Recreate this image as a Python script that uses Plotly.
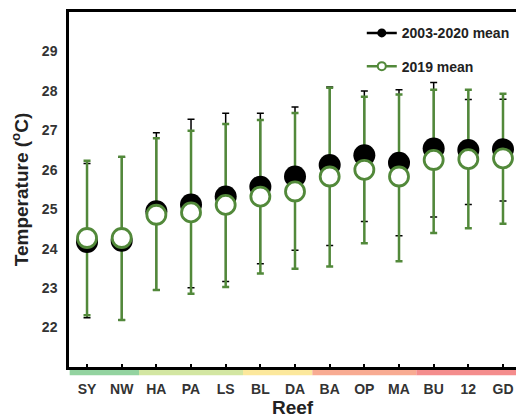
import plotly.graph_objects as go

# Reef sites, ordered from coolest to warmest
reefs = ["SY", "NW", "HA", "PA", "LS", "BL", "DA", "BA", "OP", "MA", "BU", "12", "GD"]

# Long-term (2003-2020) mean temperature with its min/max range
mean_long = [24.17, 24.20, 24.95, 25.12, 25.32, 25.57, 25.83, 26.12, 26.37, 26.18, 26.54, 26.50, 26.52]
max_long = [26.16, 26.32, 26.94, 27.28, 27.43, 27.43, 27.59, 28.10, 28.00, 28.03, 28.21, 27.78, 27.79]
min_long = [22.25, 22.19, 22.95, 23.01, 23.17, 23.62, 23.96, 24.08, 24.69, 24.33, 24.80, 25.12, 25.21]

# 2019 mean temperature with its min/max range
mean_2019 = [24.27, 24.27, 24.86, 24.92, 25.11, 25.32, 25.45, 25.83, 26.00, 25.83, 26.25, 26.27, 26.29]
max_2019 = [26.23, 26.33, 26.80, 26.99, 27.16, 27.26, 27.44, 28.08, 27.85, 27.91, 28.03, 28.03, 27.93]
min_2019 = [22.31, 22.19, 22.95, 22.86, 23.03, 23.37, 23.49, 23.55, 24.14, 23.68, 24.40, 24.52, 24.63]

# Thermal zone colour bands under the reef axis: (first index, last index, colour)
zones = [(0, 1, "#93d3a0"), (2, 4, "#d3e6a2"), (5, 6, "#fce89c"),
         (7, 9, "#f8ab92"), (10, 12, "#f48d8d")]

green = "#52893a"
font = "Arial, Liberation Sans, sans-serif"
x = list(range(len(reefs)))

up_long = [h - m for h, m in zip(max_long, mean_long)]
dn_long = [m - l for m, l in zip(mean_long, min_long)]
up_2019 = [h - m for h, m in zip(max_2019, mean_2019)]
dn_2019 = [m - l for m, l in zip(mean_2019, min_2019)]

fig = go.Figure()

# Range bars first so the circles sit on top of them
fig.add_trace(go.Scatter(
    x=x, y=mean_long, mode="markers", marker=dict(size=1, opacity=0),
    error_y=dict(type="data", symmetric=False, array=up_long, arrayminus=dn_long,
                 color="black", thickness=1.5, width=3.5),
    showlegend=False, hoverinfo="skip"))
fig.add_trace(go.Scatter(
    x=x, y=mean_2019, mode="markers", marker=dict(size=1, opacity=0),
    error_y=dict(type="data", symmetric=False, array=up_2019, arrayminus=dn_2019,
                 color=green, thickness=2.5, width=3.5),
    showlegend=False, hoverinfo="skip"))

# Mean markers
fig.add_trace(go.Scatter(
    x=x, y=mean_long, mode="markers",
    marker=dict(size=22, color="black", line=dict(width=0)),
    showlegend=False))
fig.add_trace(go.Scatter(
    x=x, y=mean_2019, mode="markers",
    marker=dict(size=19, color="white", line=dict(color=green, width=2.8)),
    showlegend=False))

# Legend entries
fig.add_trace(go.Scatter(
    x=[None], y=[None], mode="lines+markers", name="2003-2020 mean",
    legendgroup="a", line=dict(color="black", width=2.5),
    marker=dict(size=9, color="black")))
fig.add_trace(go.Scatter(
    x=[None], y=[None], mode="lines+markers", name="2019 mean",
    legendgroup="b", line=dict(color=green, width=2.5),
    marker=dict(size=8, color="white", line=dict(color=green, width=2))))

for i0, i1, col in zones:
    fig.add_shape(type="rect", xref="x", yref="paper",
                  x0=i0 - 0.5, x1=i1 + 0.5, y0=-0.0235, y1=-0.004,
                  fillcolor=col, line=dict(width=0), layer="below")

fig.update_layout(
    width=516, height=419,
    margin=dict(l=69, r=0, t=12, b=52, autoexpand=False),
    paper_bgcolor="white", plot_bgcolor="white",
    font=dict(family=font, color="#222"),
    legend=dict(x=0.655, y=0.985, xanchor="left", yanchor="top",
                traceorder="grouped", tracegroupgap=12, itemwidth=30,
                font=dict(size=14, color="#222", weight="bold"),
                bgcolor="rgba(0,0,0,0)"),
)

fig.update_xaxes(
    range=[-0.52, 12.375], tickmode="array", tickvals=x, ticktext=reefs,
    showline=True, linecolor="black", linewidth=2.5, mirror=True,
    ticks="inside", ticklen=3, tickwidth=1.5, tickcolor="black",
    ticklabelstandoff=7, showgrid=False, zeroline=False,
    tickfont=dict(size=14, color="#333", weight="bold"),
    title=dict(text="Reef", font=dict(size=19, color="#222", weight="bold"), standoff=2))

fig.update_yaxes(
    range=[21, 30], tickmode="array", tickvals=[22, 23, 24, 25, 26, 27, 28, 29],
    showline=True, linecolor="black", linewidth=2.5,
    ticks="", ticklabelstandoff=6, showgrid=False, zeroline=False,
    tickfont=dict(size=14, color="#333", weight="bold"),
    title=dict(text="Temperature (<sup>o</sup>C)",
               font=dict(size=19, color="#222", weight="bold"), standoff=9))

fig.write_html("out.html")
